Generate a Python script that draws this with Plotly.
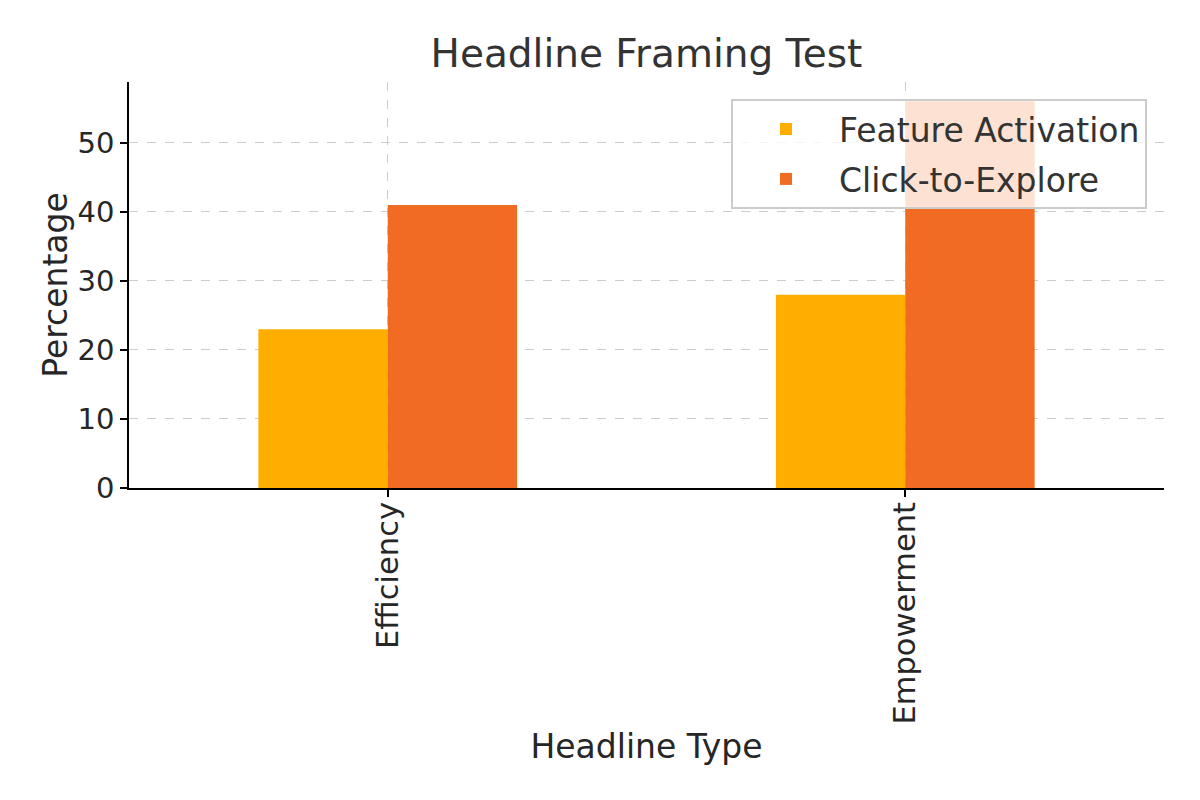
import plotly.graph_objects as go

categories = ["Efficiency", "Empowerment"]
feature_activation = [23, 28]
click_to_explore = [41, 56]
y_ticks = [0, 10, 20, 30, 40, 50]

FONT = "DejaVu Sans"

fig = go.Figure()
fig.add_trace(go.Bar(x=categories, y=feature_activation, name="Feature Activation",
                     legendgroup="fa",
                     marker=dict(color="#FFAE00", line=dict(width=0))))
fig.add_trace(go.Bar(x=categories, y=click_to_explore, name="Click-to-Explore",
                     legendgroup="ce",
                     marker=dict(color="#F26B22", line=dict(width=0))))

fig.update_layout(
    width=1200, height=800,
    paper_bgcolor="white", plot_bgcolor="white",
    margin=dict(l=121, r=44, t=74, b=320),
    barmode="group", bargap=0.5, bargroupgap=0,
    font=dict(family=FONT, color="#262626"),
    title=dict(text="Headline Framing Test", x=0.5, xref="paper", xanchor="center",
               y=1 - 45 / 800, yref="container", yanchor="middle",
               font=dict(size=39, color="#333333", family=FONT)),
    legend=dict(x=0.9836, xanchor="right", y=0.958, yanchor="top",
                bgcolor="rgba(255,255,255,0.8)", bordercolor="#CCCCCC", borderwidth=2,
                font=dict(size=33, color="#333333", family=FONT),
                itemwidth=96, tracegroupgap=4),
    xaxis=dict(
        range=[-0.5, 1.5], tickangle=-90,
        title=dict(text="Headline Type", font=dict(size=33, color="#262626"), standoff=11),
        tickfont=dict(size=30.5, color="#262626"),
        ticklabelstandoff=-7,
        showline=True, linecolor="black", linewidth=1.6,
        ticks="outside", ticklen=7, tickwidth=1.6, tickcolor="black",
        showgrid=True, gridcolor="#CCCCCC", griddash="dash", gridwidth=1.3,
        layer="above traces",
    ),
    yaxis=dict(
        range=[0, 58.8], tickvals=y_ticks,
        title=dict(text="Percentage", font=dict(size=33, color="#262626"), standoff=0),
        tickfont=dict(size=29, color="#262626"),
        showline=True, linecolor="black", linewidth=1.6,
        ticks="outside", ticklen=7, tickwidth=1.6, tickcolor="black",
        showgrid=True, gridcolor="#CCCCCC", griddash="dash", gridwidth=1.3,
        zeroline=False, layer="above traces",
    ),
)

fig.write_html("out.html")
